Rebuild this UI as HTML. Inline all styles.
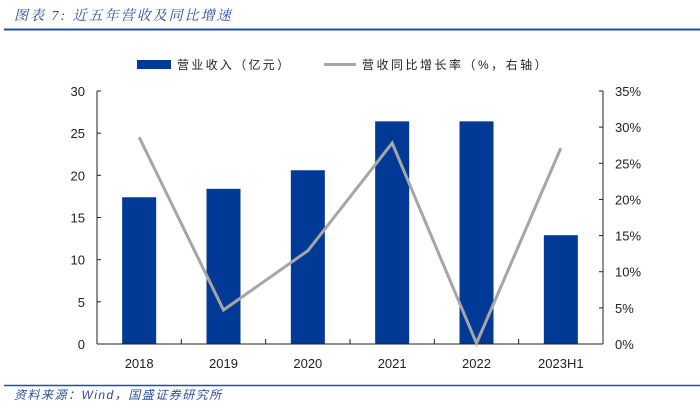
<!DOCTYPE html>
<html><head><meta charset="utf-8"><style>
body{margin:0;background:#fff;width:700px;height:405px;overflow:hidden;font-family:"Liberation Sans","Noto Sans CJK SC",sans-serif}
</style></head><body>
<svg width="700" height="405">
<text x="14" y="20" font-size="14" font-style="italic" fill="#2a4f9a" letter-spacing="2" font-family="Liberation Serif,Noto Serif CJK SC,serif">图表 7:  近五年营收及同比增速</text>
<line x1="4" y1="29.5" x2="700" y2="29.5" stroke="#1f4fa0" stroke-width="2"/>
<g>
<rect x="137" y="60" width="34" height="9" fill="#003a96"/>
<text x="177" y="69" font-size="12" fill="#222" letter-spacing="2.3">营业收入（亿元）</text>
<line x1="324" y1="64.5" x2="356" y2="64.5" stroke="#a6a6a6" stroke-width="3"/>
<text x="362" y="69" font-size="12" fill="#222" letter-spacing="2.5">营收同比增长率（%，右轴）</text>
</g>
<g id="plot"></g>
<line x1="4" y1="385.5" x2="700" y2="385.5" stroke="#1f4fa0" stroke-width="1.5"/>
<text x="14" y="399" font-size="12" font-style="italic" fill="#2a4f9a" letter-spacing="1.5">资料来源：Wind，国盛证券研究所</text>
</svg>
<script>
const categories=["2018","2019","2020","2021","2022","2023H1"];
const revenue=[17.4,18.4,20.6,26.4,26.4,12.9];
const growth=[28.6,4.7,12.9,27.8,0.1,27.1];
const leftTicks=[0,5,10,15,20,25,30];
const rightTicks=[0,5,10,15,20,25,30,35];
const NS="http://www.w3.org/2000/svg";
const g=document.getElementById('plot');
const X0=97,X1=603,Y0=344,Y1=91;
const band=(X1-X0)/categories.length;
const xc=i=>X0+band*(i+0.5);
const yl=v=>Y0-(v/30)*(Y0-Y1);
const yr=v=>Y0-(v/35)*(Y0-Y1);
function mk(t,a){const e=document.createElementNS(NS,t);for(const k in a)e.setAttribute(k,a[k]);g.appendChild(e);return e;}
revenue.forEach((v,i)=>{const r=mk('rect',{x:xc(i)-17,y:yl(v),width:34,height:Y0-yl(v),fill:'#003a96'});

});
let ax=mk('line',{x1:X0,y1:Y1,x2:X0,y2:Y0,stroke:'#222'});


ax=mk('line',{x1:X1,y1:Y1,x2:X1,y2:Y0,stroke:'#222'});


ax=mk('line',{x1:X0,y1:Y0,x2:X1,y2:Y0,stroke:'#222'});


leftTicks.forEach(v=>{mk('line',{x1:X0,x2:X0+4,y1:yl(v),y2:yl(v),stroke:'#222'});
const t=mk('text',{x:X0-12,y:yl(v)+5,'font-size':13,'text-anchor':'end',fill:'#222'});t.textContent=v;

});
rightTicks.forEach(v=>{mk('line',{x1:X1-4,x2:X1,y1:yr(v),y2:yr(v),stroke:'#222'});
const t=mk('text',{x:X1+12,y:yr(v)+5,'font-size':13,fill:'#222'});t.textContent=v+'%';

});
for(let i=1;i<categories.length;i++)mk('line',{x1:X0+band*i,x2:X0+band*i,y1:Y0,y2:Y0-5,stroke:'#222'});
categories.forEach((c,i)=>{const t=mk('text',{x:xc(i),y:368,'font-size':13,'text-anchor':'middle',fill:'#222'});t.textContent=c;

});
const ln=mk('polyline',{points:growth.map((v,i)=>xc(i)+','+yr(v)).join(' '),fill:'none',stroke:'#a6a6a6','stroke-width':3});


</script>
</body></html>
